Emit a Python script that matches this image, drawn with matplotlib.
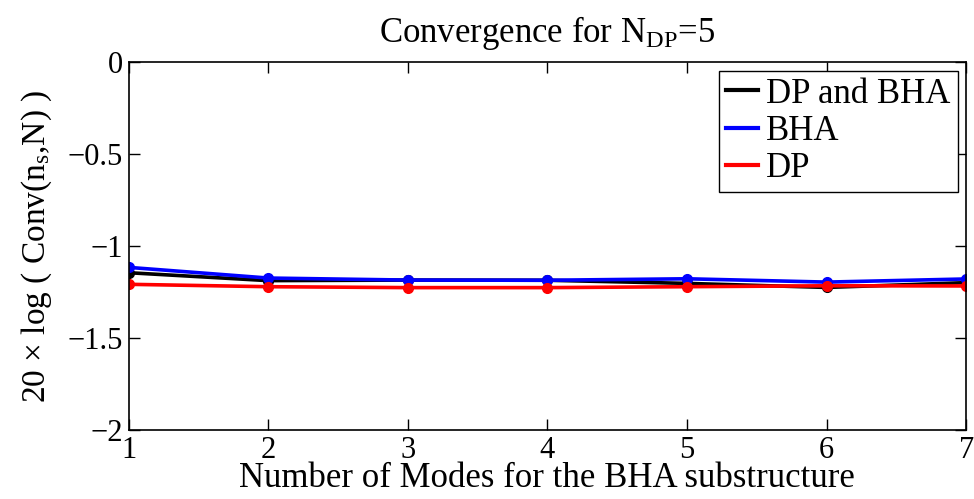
import numpy as np
import matplotlib.pyplot as plt

plt.rcParams["font.family"] = ["Liberation Serif", "DejaVu Serif"]
plt.rcParams["mathtext.fontset"] = "custom"
plt.rcParams["mathtext.rm"] = "Liberation Serif"
plt.rcParams["mathtext.it"] = "Liberation Serif"

modes = [1, 2, 3, 4, 5, 6, 7]
dp_and_bha = [-1.145, -1.188, -1.185, -1.186, -1.203, -1.225, -1.199]
bha = [-1.116, -1.174, -1.185, -1.186, -1.178, -1.196, -1.179]
dp = [-1.208, -1.221, -1.226, -1.226, -1.221, -1.216, -1.217]

series = [
    ("DP and BHA", dp_and_bha, "black"),
    ("BHA", bha, "blue"),
    ("DP", dp, "red"),
]

fig = plt.figure(figsize=(9.74, 4.99), dpi=100)
ax = fig.add_axes([0.132, 0.138, 0.86, 0.738])

for label, vals, color in series:
    ax.plot(modes, vals, color=color, lw=2.6, label=label)
    ax.plot(modes, vals, "o", color=color, ms=7)

ax.set_xlim(1, 7)
ax.set_ylim(-2, 0)
ax.set_xticks(modes)
ax.set_yticks([-2, -1.5, -1, -0.5, 0])
ax.set_yticklabels(["\u22122", "\u22121.5", "\u22121", "\u22120.5", "0"])
ax.tick_params(direction="in", top=True, right=True, labelsize=22, length=8, width=1, pad=4)
for s in ax.spines.values():
    s.set_linewidth(1.2)

ax.set_title(r"Convergence for N$_{\mathrm{DP}}$=5", fontsize=25, pad=14)
ax.set_xlabel("Number of Modes for the BHA substructure", fontsize=25, labelpad=-2)
ax.set_ylabel(r"20 $\times$ log ( Conv(n$_{\mathrm{s}}$,N) )", fontsize=24, labelpad=10)

leg = ax.legend(loc="upper right", fontsize=25, handlelength=0.9, handletextpad=0.25,
                borderpad=0.2, labelspacing=0.12, fancybox=False, framealpha=1,
                borderaxespad=0.25)
leg.get_frame().set_edgecolor("black")
leg.get_frame().set_linewidth(1.0)
for h in leg.get_lines():
    h.set_linewidth(3)

fig.savefig("out.png", dpi=100)
